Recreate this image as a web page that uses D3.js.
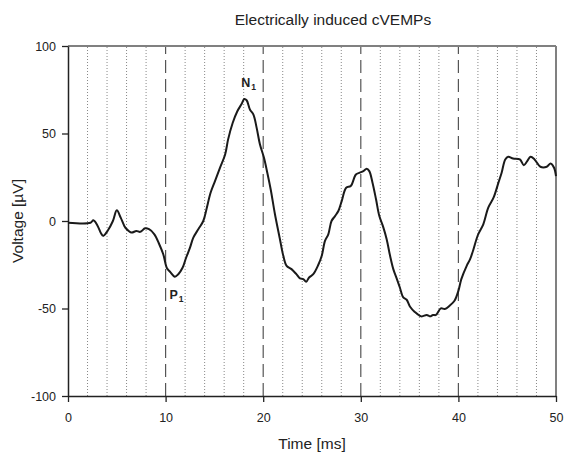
<!DOCTYPE html>
<html>
<head>
<meta charset="utf-8">
<script src="https://cdn.jsdelivr.net/npm/d3@7"></script>
<style>
  body { margin: 0; background: #fff; }
  text { font-family: "Liberation Sans", Arial, sans-serif; }
</style>
</head>
<body>
<div id="chart"></div>
<script>
const width = 565, height = 453;
const margin = {top: 46, right: 9, bottom: 57, left: 68};

// time in ms
const timeMs = [0, 2.3, 2.6, 3.04, 3.38, 3.6, 4.05, 4.6, 5.0, 5.4, 5.77, 5.95, 6.5, 7.0, 7.4, 7.9,
  8.3, 8.85, 9.35, 9.76, 10.14, 10.45, 10.95, 11.3, 11.75, 12.1, 12.5, 12.84, 13.35, 13.86, 14.2,
  14.6, 15.06, 15.57, 16.1, 16.4, 16.87, 17.35, 17.8, 18.06, 18.3, 18.65, 19.0, 19.33, 19.67,
  20.08, 20.42, 20.77, 21.2, 21.7, 22.06, 22.4, 22.9, 23.4, 23.77, 24.1, 24.4, 24.7, 25.13,
  25.65, 26.0, 26.33, 26.67, 27.0, 27.36, 27.7, 28.05, 28.5, 28.97, 29.5, 29.9, 30.26, 30.6,
  30.87, 31.2, 31.56, 31.9, 32.3, 32.65, 33.0, 33.33, 33.7, 34.0, 34.35, 34.7, 35.05, 35.5,
  36.2, 36.75, 37.1, 37.4, 37.7, 38.2, 38.6, 39.1, 39.6, 40.0, 40.3, 40.85, 41.2, 41.5, 42.0,
  42.55, 43.06, 43.6, 44.1, 44.43, 44.8, 45.1, 45.6, 46.3, 46.7, 47.05, 47.4, 47.8, 48.4,
  49.05, 49.45, 49.8, 50];
// voltage in microvolts
const voltage = [-1, -1, 0.4, -2.8, -7, -8.5, -5.7, 0, 6.1, 1.9, -2.8, -4.3, -6.6, -5.7, -6.2, -4.2,
  -4.7, -7.6, -13.3, -19, -27, -29, -31.8, -30.4, -26.6, -21, -15.2, -9.5, -4.7, 0, 7,
  16, 22.8, 30.4, 38, 46.5, 56, 62.7, 67, 69.7, 69, 63.6, 60.8, 53.2, 43.7,
  36.1, 27.6, 18, 4, -10, -19.9, -25.6, -27.5, -30.4, -32.8, -33.2, -34.7, -32.3, -30.4,
  -25, -19.9, -11.4, -7.6, 0, 2.8, 5.7, 11.5, 19, 20, 26.6, 27.6, 28.5, 29.9,
  28.5, 21.9, 12.4, 2.8, -3.5, -10.4, -19.9, -27.5, -33.2, -38, -43.6, -45, -49, -51.8,
  -54.5, -53.7, -54.5, -53.7, -53.7, -49.9, -50.3, -48.4, -45.6, -39.9, -33.2, -25.6, -21.8, -17, -8,
  -1.9, 7.6, 13.3, 21.9, 27.6, 35.2, 36.7, 35.7, 35.2, 31.9, 34.2, 36.7, 35.2, 31,
  31, 32.9, 30.4, 25.6];

const xTicks = [0, 10, 20, 30, 40, 50];
const yTicks = [-100, -50, 0, 50, 100];
const minorGrid = [2, 4, 6, 8, 12, 14, 16, 18, 22, 24, 26, 28, 32, 34, 36, 38, 42, 44, 46, 48];
const majorGrid = [10, 20, 30, 40];
const peaks = [{name: "N", t: 17.95, v: 69.7, dx: -2, dy: -12}, {name: "P", t: 10.4, v: -32, dx: 0, dy: 22}];

const data = timeMs.map((t, i) => ({t: t, v: voltage[i]}));

const svg = d3.select("#chart")
    .append("svg")
    .attr("width", width)
    .attr("height", height);

const plotW = width - margin.left - margin.right;
const plotH = height - margin.top - margin.bottom;

const x = d3.scaleLinear().domain([0, 50]).range([margin.left, margin.left + plotW]);
const y = d3.scaleLinear().domain([-100, 100]).range([margin.top + plotH, margin.top]);

// grid lines
svg.append("g")
    .selectAll("line")
    .data(minorGrid)
    .join("line")
    .attr("x1", d => x(d)).attr("x2", d => x(d))
    .attr("y1", y(-100)).attr("y2", y(100))
    .attr("stroke", "#888")
    .attr("stroke-width", 1)
    .attr("stroke-dasharray", "1,2");

svg.append("g")
    .selectAll("line")
    .data(majorGrid)
    .join("line")
    .attr("x1", d => x(d)).attr("x2", d => x(d))
    .attr("y1", y(-100)).attr("y2", y(100))
    .attr("stroke", "#555")
    .attr("stroke-width", 1.2)
    .attr("stroke-dasharray", "13,6");

// frame top / right
svg.append("line")
    .attr("x1", x(0)).attr("x2", x(50))
    .attr("y1", y(100)).attr("y2", y(100))
    .attr("stroke", "#808080").attr("stroke-width", 2);
svg.append("line")
    .attr("x1", x(50)).attr("x2", x(50))
    .attr("y1", y(100)).attr("y2", y(-100))
    .attr("stroke", "#808080").attr("stroke-width", 2);

// axes (plain hyphen for negatives, as in the original)
const fmt = d => String(d);
const xAxis = svg.append("g")
    .attr("transform", `translate(0,${y(-100)})`)
    .call(d3.axisBottom(x).tickValues(xTicks).tickFormat(fmt).tickSize(6).tickPadding(11).tickSizeOuter(0));
const yAxis = svg.append("g")
    .attr("transform", `translate(${x(0)},0)`)
    .call(d3.axisLeft(y).tickValues(yTicks).tickFormat(fmt).tickSize(6).tickPadding(6).tickSizeOuter(0));

[xAxis, yAxis].forEach(a => {
    a.select(".domain").attr("stroke", "#222").attr("stroke-width", 1.5);
    a.selectAll(".tick line").attr("stroke", "#222").attr("stroke-width", 1.3);
    a.selectAll(".tick text")
        .attr("font-family", "Liberation Sans, Arial, sans-serif")
        .attr("font-size", 12.5)
        .attr("fill", "#222");
});

// waveform
const line = d3.line()
    .x(d => x(d.t))
    .y(d => y(d.v))
    .curve(d3.curveCatmullRom);

svg.append("path")
    .datum(data)
    .attr("fill", "none")
    .attr("stroke", "#1a1a1a")
    .attr("stroke-width", 2)
    .attr("stroke-linejoin", "round")
    .attr("d", line);

// peak labels
peaks.forEach(p => {
    const lbl = svg.append("text")
        .attr("x", x(p.t) + p.dx)
        .attr("y", y(p.v) + p.dy)
        .attr("font-size", 12.5)
        .attr("font-weight", "bold")
        .attr("fill", "#222")
        .text(p.name);
    lbl.append("tspan")
        .attr("font-size", 8.5)
        .attr("dy", 3)
        .attr("dx", 1)
        .text("1");
});

// titles
svg.append("text")
    .attr("x", 333)
    .attr("y", 25)
    .attr("text-anchor", "middle")
    .attr("font-size", 15.5)
    .attr("fill", "#222")
    .text("Electrically induced cVEMPs");

svg.append("text")
    .attr("x", x(25))
    .attr("y", 449)
    .attr("text-anchor", "middle")
    .attr("font-size", 15.5)
    .attr("fill", "#222")
    .text("Time [ms]");

svg.append("text")
    .attr("transform", `translate(23,${y(0)}) rotate(-90)`)
    .attr("text-anchor", "middle")
    .attr("font-size", 15.5)
    .attr("fill", "#222")
    .text("Voltage [µV]");
</script>
</body>
</html>
